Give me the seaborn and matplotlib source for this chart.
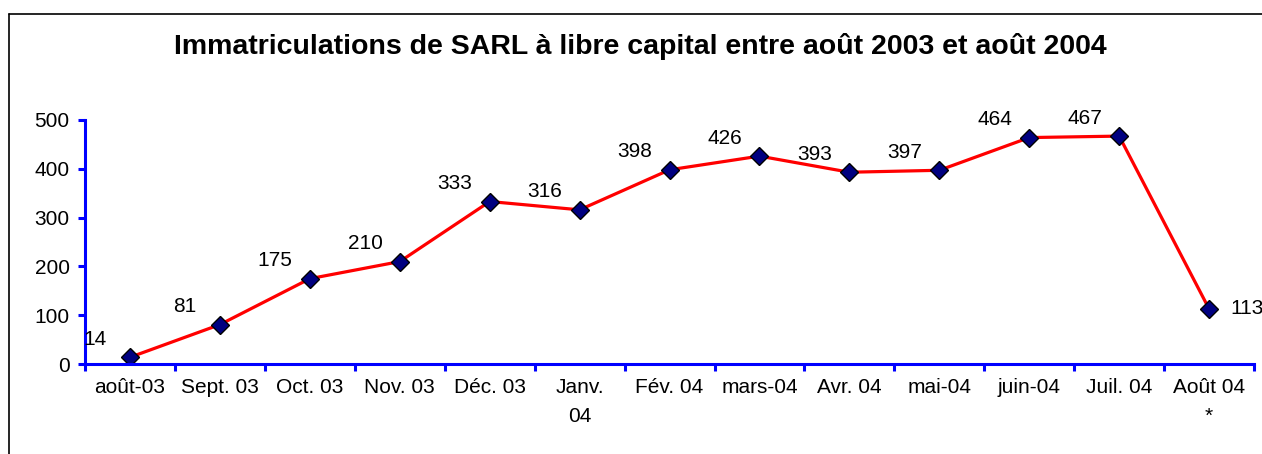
import pandas as pd
import seaborn as sns
import matplotlib.pyplot as plt
from matplotlib.lines import Line2D

# données : immatriculations mensuelles
mois = ['août-03', 'Sept. 03', 'Oct. 03', 'Nov. 03', 'Déc. 03', 'Janv.\n04',
        'Fév. 04', 'mars-04', 'Avr. 04', 'mai-04', 'juin-04', 'Juil. 04', 'Août 04\n*']
immatriculations = [14, 81, 175, 210, 333, 316, 398, 426, 393, 397, 464, 467, 113]

df = pd.DataFrame({'mois': mois, 'n': immatriculations})
df['pos'] = range(len(df))

sns.set_style('white')
plt.rcParams['font.family'] = ['Liberation Sans', 'DejaVu Sans']
plt.rcParams['text.color'] = 'black'
plt.rcParams['xtick.color'] = 'black'
plt.rcParams['ytick.color'] = 'black'

fs = 15
fig = plt.figure(figsize=(12.62, 4.54), dpi=100)
ax = fig.add_axes([0.0674, 0.198, 0.9263, 0.5377])

sns.lineplot(x='pos', y='n', data=df, ax=ax, color='red', linewidth=2.3,
             marker='D', markersize=9, markerfacecolor='#000080',
             markeredgecolor='black', markeredgewidth=1)

# étiquettes de valeurs
for i, v in enumerate(immatriculations):
    if i == len(immatriculations) - 1:
        ax.annotate(str(v), (i, v), xytext=(27, 0), textcoords='offset points',
                    ha='center', va='center', fontsize=fs)
    else:
        ax.annotate(str(v), (i, v), xytext=(-25, 13), textcoords='offset points',
                    ha='center', va='center', fontsize=fs)

ax.set_xlim(-0.5, len(mois) - 0.5)
ax.set_ylim(0, 500)
ax.set_xticks(range(len(mois)))
ax.set_xticklabels(mois, fontsize=fs, linespacing=1.65)
ax.set_xticks([i - 0.5 for i in range(len(mois) + 1)], minor=True)
ax.set_yticks([0, 100, 200, 300, 400, 500])
ax.tick_params(axis='y', labelsize=fs, length=5, width=2.2, color='blue', left=True, pad=6)
ax.tick_params(axis='x', which='major', length=0, pad=10)
ax.tick_params(axis='x', which='minor', length=5, width=2.2, color='blue', bottom=True)
ax.set_xlabel('')
ax.set_ylabel('')
ax.grid(False)

for s in ['top', 'right']:
    ax.spines[s].set_visible(False)
for s in ['left', 'bottom']:
    ax.spines[s].set_color('blue')
    ax.spines[s].set_linewidth(2.2)

fig.text(0.507, 0.897, 'Immatriculations de SARL à libre capital entre août 2003 et août 2004',
         ha='center', va='center', fontsize=20.5, fontweight='bold')

# cadre du graphique
fig.add_artist(Line2D([9 / 1262, 1], [1 - 14 / 454, 1 - 14 / 454], color='black', linewidth=1.2))
fig.add_artist(Line2D([9 / 1262, 9 / 1262], [0, 1 - 14 / 454], color='black', linewidth=1.2))

fig.savefig('out.png', dpi=100)
